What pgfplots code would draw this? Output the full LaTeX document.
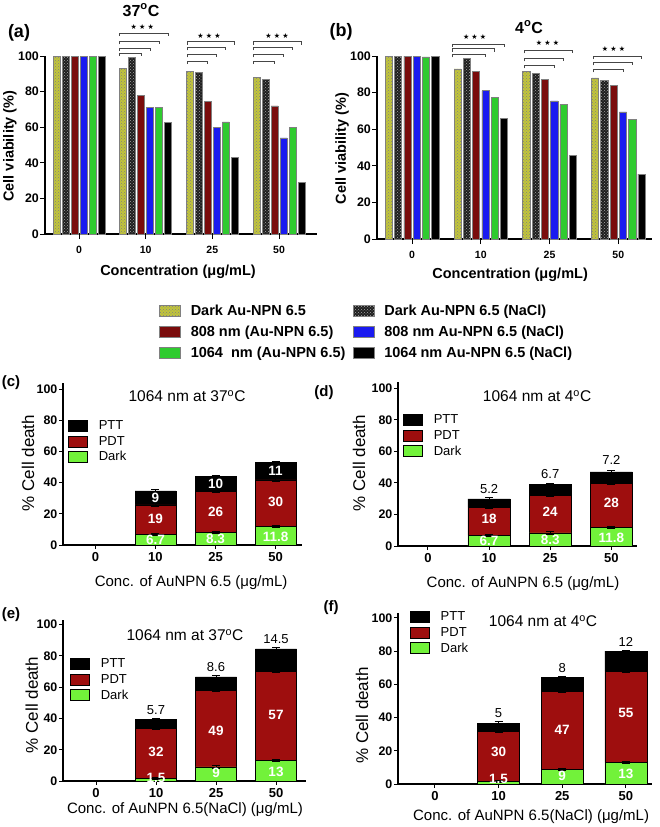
\documentclass[border=0pt]{standalone}
\usepackage{fontspec}
\setmainfont{Liberation Sans}
\newfontfamily\symfont{DejaVu Sans}
\usepackage{pgfplots}
\usepackage{pgfplotstable}
\pgfplotsset{compat=1.18}
\usetikzlibrary{patterns}

\definecolor{cyel}{HTML}{C2C53A}
\definecolor{cdark}{HTML}{1E1E1E}
\definecolor{cred}{HTML}{7A0C0C}
\definecolor{cblue}{HTML}{1A1AF0}
\definecolor{cgreen}{HTML}{2FCB2F}
\definecolor{sred}{HTML}{9E0E0E}
\definecolor{sgreen}{HTML}{72F23A}

\newcommand{\fs}[1]{\fontsize{#1}{#1}\selectfont}
\newcommand{\stars}{{\symfont\fs{7}★\hspace{2.2pt}★\hspace{2.2pt}★}}

% ---- data (a) 37C
\pgfplotstableread{
x y1 y2 y3 y4 y5 y6
0 100 100 100 100 100 100
1 93 99 78 71 71 62.5
2 91.5 91 74.5 60 63 43
3 88 87 72 54 60 29
}\tableA
% ---- data (b) 4C
\pgfplotstableread{
x y1 y2 y3 y4 y5 y6
0 100 100 100 100 99.5 100
1 93 98.5 91.5 81 77.5 66
2 91.5 90.5 87 75.5 73.5 45.5
3 88 86.5 84 69.5 65.5 35.5
}\tableB
% ---- stacked data
\pgfplotstableread{
x d ed p ep t et
0 0 0.4 0 0 0 0
1 6.7 0.7 19 0.7 9 1
2 8.3 0.7 26 0.7 10 0.7
3 11.8 0.7 30 0.7 11 0.7
}\tableC
\pgfplotstableread{
x d ed p ep t et
0 0 0.4 0 0 0 0
1 6.7 0.7 18 0.7 5.2 1
2 8.3 0.7 24 0.7 6.7 0.7
3 11.8 0.7 28 0.7 7.2 1
}\tableD
\pgfplotstableread{
x d ed p ep t et
0 0 0.4 0 0 0 0
1 1.5 0.7 32 0.7 5.7 0.7
2 9 0.7 49 0.7 8.6 0.7
3 13 0.7 57 0.7 14.5 0.7
}\tableE
\pgfplotstableread{
x d ed p ep t et
0 0 0.4 0 0 0 0
1 1.5 0.7 30 0.7 5 1
2 9 0.7 47 0.7 8 1
3 13 0.7 55 0.7 12 0.7
}\tableF

\tikzset{
  vin/.style={text=white, font=\bfseries\fs{13.5}},
  vtop/.style={text=black, font=\fs{13}, anchor=south},
  brk/.style={gray!55!black, line width=0.7pt},
}
\pgfplotsset{
  commonAB/.style={
    scale only axis, anchor=south west,
    axis lines=left, axis line style={-, line width=1.1pt},
    ymin=0, ymax=100, ytick={0,20,40,60,80,100},
    xtick={0,1,2,3}, xticklabels={0,10,25,50},
    tick align=outside, major tick length=5pt,
    tick style={line width=1pt, black},
    /pgf/number format/assume math mode=true,
    yticklabel style={font=\bfseries\fs{12.4}, inner sep=1pt},
    xticklabel style={font=\bfseries\fs{10.5}, yshift=-4pt},
    ylabel style={font=\bfseries\fs{14.5}},
    xlabel style={font=\bfseries\fs{14.5}},
    clip=false, bar width=0.105,
  },
  b6/.style={ybar, draw=gray, line width=0.6pt, fill=#1,
    legend image code/.code={\draw[##1] (0pt,-5.5pt) rectangle (21pt,5.5pt);}},
  commonCF/.style={
    scale only axis, anchor=south west,
    axis lines=left, axis line style={-, line width=1.1pt},
    ymin=0, ytick={0,20,40,60,80,100},
    xtick={0,1,2,3}, xticklabels={0,10,25,50},
    tick align=outside, major tick length=4pt,
    tick style={line width=1pt, black},
    /pgf/number format/assume math mode=true,
    yticklabel style={font=\bfseries\fs{12.4}, inner sep=1.5pt},
    xticklabel style={font=\bfseries\fs{13}},
    ylabel style={font=\fs{17}},
    xlabel style={font=\fs{15}},
    title style={font=\fs{15.5}},
    clip=false, ybar stacked,
    reverse legend,
    legend style={draw=none, fill=none, font=\fs{13}, inner sep=0pt,
      nodes={inner sep=2pt}, row sep=1pt, legend cell align=left,
      /tikz/every odd column/.append style={column sep=9pt}},
    error bars/error bar style={line width=0.8pt, black},
    error bars/error mark options={rotate=90, mark size=4pt, line width=0.8pt, black},
  },
  sb/.style={draw=black, line width=0.6pt, fill=#1, error bars/y dir=both, error bars/y explicit,
    legend image code/.code={\draw[##1,line width=0.6pt] (0pt,-5.5pt) rectangle (19pt,5.5pt);}},
}
\newcommand{\br}[3]{\draw[brk] (axis cs:#1,#3-1.8) -- (axis cs:#1,#3) -- (axis cs:#2,#3) -- (axis cs:#2,#3-1.8);}

\begin{document}
\begin{tikzpicture}[x=1pt,y=1pt]
\path[use as bounding box] (0,0) rectangle (660,-827);

% ================= (a)
\begin{axis}[commonAB, at={(45pt,-234pt)}, width=272pt, height=178pt, xmin=-0.51, xmax=3.57,
  ylabel={Cell viability (\%)}, ylabel style={at={(axis description cs:-0.129,0.494)}, anchor=center},
  xlabel={Concentration (μg/mL)}, xlabel style={at={(axis description cs:0.489,-0.213)}, anchor=center},
  legend columns=2,
  legend style={at={(axis description cs:0.419,-0.385)}, anchor=north west, draw=none, fill=none,
    font=\bfseries\fs{14.5}, inner sep=0pt, nodes={inner sep=2pt}, row sep=5pt, legend cell align=left,
    /tikz/every odd column/.append style={column sep=8pt},
    /tikz/every even column/.append style={column sep=10pt}},
]
\addplot[b6=cyel, bar shift=-0.3375, postaction={pattern=crosshatch dots, pattern color=black!50}] table[x=x,y=y1]{\tableA};
\addlegendentry{\makebox[150pt][l]{Dark Au-NPN 6.5}}
\addplot[b6=cdark, bar shift=-0.2025, postaction={pattern=crosshatch dots, pattern color=gray!70}] table[x=x,y=y2]{\tableA};
\addlegendentry{Dark Au-NPN 6.5 (NaCl)}
\addplot[b6=cred, bar shift=-0.0675] table[x=x,y=y3]{\tableA};
\addlegendentry{\makebox[150pt][l]{808 nm (Au-NPN 6.5)}}
\addplot[b6=cblue, bar shift=0.0675] table[x=x,y=y4]{\tableA};
\addlegendentry{808 nm Au-NPN 6.5 (NaCl)}
\addplot[b6=cgreen, bar shift=0.2025] table[x=x,y=y5]{\tableA};
\addlegendentry{\makebox[150pt][l]{1064\ \ nm (Au-NPN 6.5)}}
\addplot[b6=black, bar shift=0.3375] table[x=x,y=y6]{\tableA};
\addlegendentry{1064 nm Au-NPN 6.5 (NaCl)}
\br{0.60}{0.9325}{101.7}\br{0.60}{1.0675}{104.5}\br{0.60}{1.2025}{108.4}\br{0.60}{1.3375}{113}
\node at (axis cs:0.95,116.5) {\stars};
\br{1.62}{1.9325}{97.2}\br{1.62}{2.0675}{101}\br{1.62}{2.2025}{105}\br{1.62}{2.3375}{108}
\node at (axis cs:1.95,111.5) {\stars};
\br{2.62}{2.9325}{97.2}\br{2.62}{3.0675}{101}\br{2.62}{3.2025}{105}\br{2.62}{3.3375}{108}
\node at (axis cs:2.97,111.5) {\stars};
\end{axis}

% ================= (b)
\begin{axis}[commonAB, at={(377pt,-239pt)}, width=275pt, height=183pt, xmin=-0.51, xmax=3.49,
  ylabel={Cell viability (\%)}, ylabel style={at={(axis description cs:-0.127,0.494)}, anchor=center},
  xlabel={Concentration (μg/mL)}, xlabel style={at={(axis description cs:0.484,-0.197)}, anchor=center},
]
\addplot[b6=cyel, bar shift=-0.3375, postaction={pattern=crosshatch dots, pattern color=black!50}] table[x=x,y=y1]{\tableB};
\addplot[b6=cdark, bar shift=-0.2025, postaction={pattern=crosshatch dots, pattern color=gray!70}] table[x=x,y=y2]{\tableB};
\addplot[b6=cred, bar shift=-0.0675] table[x=x,y=y3]{\tableB};
\addplot[b6=cblue, bar shift=0.0675] table[x=x,y=y4]{\tableB};
\addplot[b6=cgreen, bar shift=0.2025] table[x=x,y=y5]{\tableB};
\addplot[b6=black, bar shift=0.3375] table[x=x,y=y6]{\tableB};
\br{0.59}{1.0675}{101}\br{0.59}{1.2025}{104}\br{0.59}{1.3375}{106.5}
\node at (axis cs:0.91,110.5) {\stars};
\br{1.64}{2.0675}{95}\br{1.64}{2.2025}{98.9}\br{1.64}{2.3375}{103.3}
\node at (axis cs:1.97,107) {\stars};
\br{2.64}{3.0675}{92.9}\br{2.64}{3.2025}{96.7}\br{2.64}{3.3375}{100}
\node at (axis cs:2.93,103.8) {\stars};
\end{axis}

% ================= (c)
\begin{axis}[commonCF, at={(63pt,-545pt)}, width=239pt, height=162pt, ymax=104, xmin=-0.54, xmax=3.44, bar width=0.68,
  ylabel={\% Cell death}, ylabel style={at={(axis description cs:-0.146,0.506)}, anchor=center},
  xlabel={Conc. of AuNPN 6.5 (μg/mL)}, xlabel style={at={(axis description cs:0.536,-0.235)}, anchor=center},
  title={1064 nm at 37\textsuperscript{o}C}, title style={at={(axis description cs:0.519,0.883)}, anchor=center},
  legend style={at={(axis description cs:0.021,0.781)}, anchor=north west},
]
\addplot[sb=sgreen] table[x=x,y=d,y error=ed]{\tableC}; \addlegendentry{Dark}
\addplot[sb=sred] table[x=x,y=p,y error=ep]{\tableC}; \addlegendentry{PDT}
\addplot[sb=black] table[x=x,y=t,y error=et]{\tableC}; \addlegendentry{PTT}
\coordinate (c1) at (axis cs:1,30.5); \coordinate (c2) at (axis cs:1,16.5); \coordinate (c3) at (axis cs:1,3);
\coordinate (c4) at (axis cs:2,39.5); \coordinate (c5) at (axis cs:2,21.5); \coordinate (c6) at (axis cs:2,3.8);
\coordinate (c7) at (axis cs:3,47.5); \coordinate (c8) at (axis cs:3,27.5); \coordinate (c9) at (axis cs:3,5.5);
\end{axis}
\node[vin] at (c1) {9}; \node[vin] at (c2) {19}; \node[vin] at (c3) {6.7};
\node[vin] at (c4) {10}; \node[vin] at (c5) {26}; \node[vin] at (c6) {8.3};
\node[vin] at (c7) {11}; \node[vin] at (c8) {30}; \node[vin] at (c9) {11.8};

% ================= (d)
\begin{axis}[commonCF, at={(398pt,-546pt)}, width=239pt, height=164pt, ymax=104, xmin=-0.49, xmax=3.42, bar width=0.69,
  ylabel={\% Cell death}, ylabel style={at={(axis description cs:-0.163,0.506)}, anchor=center},
  xlabel={Conc. of AuNPN 6.5 (μg/mL)}, xlabel style={at={(axis description cs:0.523,-0.227)}, anchor=center},
  title={1064 nm at 4\textsuperscript{o}C}, title style={at={(axis description cs:0.582,0.878)}, anchor=center},
  legend style={at={(axis description cs:0.021,0.814)}, anchor=north west},
]
\addplot[sb=sgreen] table[x=x,y=d,y error=ed]{\tableD}; \addlegendentry{Dark}
\addplot[sb=sred] table[x=x,y=p,y error=ep]{\tableD}; \addlegendentry{PDT}
\addplot[sb=black] table[x=x,y=t,y error=et]{\tableD}; \addlegendentry{PTT}
\coordinate (d1) at (axis cs:1,17); \coordinate (d2) at (axis cs:1,3.2);
\coordinate (d3) at (axis cs:2,21.5); \coordinate (d4) at (axis cs:2,3.6);
\coordinate (d5) at (axis cs:3,27.5); \coordinate (d6) at (axis cs:3,5);
\node[vtop] at (axis cs:1,31.2) {5.2};
\node[vtop] at (axis cs:2,40.8) {6.7};
\node[vtop] at (axis cs:3,49.5) {7.2};
\end{axis}
\node[vin] at (d1) {18}; \node[vin] at (d2) {6.7};
\node[vin] at (d3) {24}; \node[vin] at (d4) {8.3};
\node[vin] at (d5) {28}; \node[vin] at (d6) {11.8};

% ================= (e)
\begin{axis}[commonCF, at={(63pt,-781pt)}, width=243pt, height=161pt, ymax=103, xmin=-0.55, xmax=3.5, bar width=0.69,
  ylabel={\% Cell death}, ylabel style={at={(axis description cs:-0.128,0.472)}, anchor=center},
  xlabel={Conc. of AuNPN 6.5(NaCl) (μg/mL)}, xlabel style={at={(axis description cs:0.502,-0.18)}, anchor=center},
  title={1064 nm at 37\textsuperscript{o}C}, title style={at={(axis description cs:0.502,0.87)}, anchor=center},
  legend style={at={(axis description cs:0.029,0.773)}, anchor=north west},
]
\addplot[sb=sgreen] table[x=x,y=d,y error=ed]{\tableE}; \addlegendentry{Dark}
\addplot[sb=sred] table[x=x,y=p,y error=ep]{\tableE}; \addlegendentry{PDT}
\addplot[sb=black] table[x=x,y=t,y error=et]{\tableE}; \addlegendentry{PTT}
\coordinate (e1) at (axis cs:1,18.5); \coordinate (e2) at (axis cs:1,2);
\coordinate (e3) at (axis cs:2,32); \coordinate (e4) at (axis cs:2,5);
\coordinate (e5) at (axis cs:3,42); \coordinate (e6) at (axis cs:3,6);
\node[vtop] at (axis cs:1,40.5) {5.7};
\node[vtop] at (axis cs:2,68) {8.6};
\node[vtop] at (axis cs:3,85.5) {14.5};
\end{axis}
\node[vin] at (e1) {32}; \node[vin] at (e2) {1.5};
\node[vin] at (e3) {49}; \node[vin] at (e4) {9};
\node[vin] at (e5) {57}; \node[vin] at (e6) {13};

% ================= (f)
\begin{axis}[commonCF, at={(398pt,-784pt)}, width=254pt, height=171pt, ymax=103, xmin=-0.58, xmax=3.41, bar width=0.66,
  ylabel={\% Cell death}, ylabel style={at={(axis description cs:-0.142,0.40)}, anchor=center},
  xlabel={Conc. of AuNPN 6.5(NaCl) (μg/mL)}, xlabel style={at={(axis description cs:0.524,-0.193)}, anchor=center},
  title={1064 nm at 4\textsuperscript{o}C}, title style={at={(axis description cs:0.571,0.918)}, anchor=center},
  legend style={at={(axis description cs:0.047,1.02)}, anchor=north west},
]
\addplot[sb=sgreen] table[x=x,y=d,y error=ed]{\tableF}; \addlegendentry{Dark}
\addplot[sb=sred] table[x=x,y=p,y error=ep]{\tableF}; \addlegendentry{PDT}
\addplot[sb=black] table[x=x,y=t,y error=et]{\tableF}; \addlegendentry{PTT}
\coordinate (f1) at (axis cs:1,19.3); \coordinate (f2) at (axis cs:1,3);
\coordinate (f3) at (axis cs:2,32.5); \coordinate (f4) at (axis cs:2,4.8);
\coordinate (f5) at (axis cs:3,42.8); \coordinate (f6) at (axis cs:3,6);
\node[vtop] at (axis cs:1,38) {5};
\node[vtop] at (axis cs:2,65) {8};
\node[vtop] at (axis cs:3,81) {12};
\end{axis}
\node[vin] at (f1) {30}; \node[vin] at (f2) {1.5};
\node[vin] at (f3) {47}; \node[vin] at (f4) {9};
\node[vin] at (f5) {55}; \node[vin] at (f6) {13};

% panel labels and top titles
\node[font=\bfseries\fs{18}] at (19,-33) {(a)};
\node[font=\bfseries\fs{18}] at (341,-32) {(b)};
\node[font=\bfseries\fs{16}] at (141,-10) {37\textsuperscript{o}C};
\node[font=\bfseries\fs{16}] at (529,-27) {4\textsuperscript{o}C};
\node[font=\bfseries\fs{15}] at (11,-383) {(c)};
\node[font=\bfseries\fs{15}] at (324,-393) {(d)};
\node[font=\bfseries\fs{15}] at (11,-615) {(e)};
\node[font=\bfseries\fs{15}] at (331,-608) {(f)};
\end{tikzpicture}
\end{document}
